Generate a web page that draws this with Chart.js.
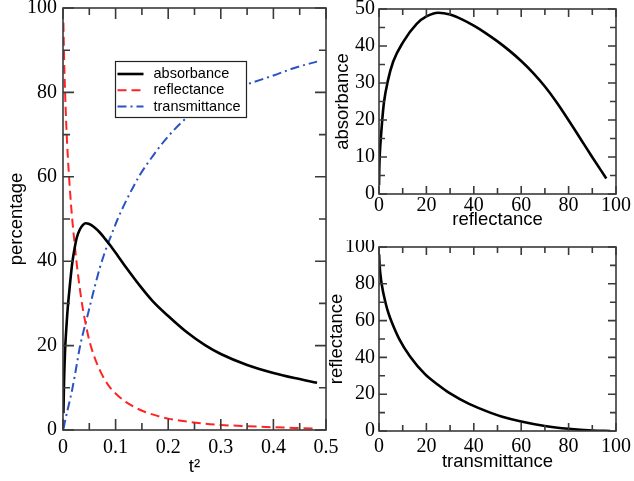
<!DOCTYPE html>
<html>
<head>
<meta charset="utf-8">
<script src="https://cdn.jsdelivr.net/npm/chart.js@4.4.0/dist/chart.umd.min.js"></script>
<style>
  body { margin: 0; background: #fff; }
  #wrap { position: relative; width: 634px; height: 481px; overflow: hidden; background: #fff; }
  canvas { position: absolute; }
</style>
</head>
<body>
<div id="wrap">
  <canvas id="main" width="340" height="481" style="left:0;top:0"></canvas>
  <canvas id="absRefl" width="320" height="240" style="left:314px;top:0"></canvas>
  <canvas id="reflTrans" width="320" height="241" style="left:314px;top:240px"></canvas>
</div>
<script>
// left panel: percentages against t^2
const t2 = [0.0008, 0.002, 0.004, 0.006, 0.008, 0.0105, 0.014, 0.0175, 0.022, 0.026,
  0.032, 0.038, 0.043, 0.05, 0.06, 0.07, 0.08, 0.09, 0.104, 0.12,
  0.146, 0.17, 0.2, 0.235, 0.27, 0.3, 0.35, 0.4, 0.44, 0.483];
const absorbance = [4, 11.5, 19, 23.5, 27.3, 31, 35.5, 39.5, 43, 45.5,
  47.5, 48.6, 49, 48.8, 48.0, 46.8, 45.3, 43.7, 41.3, 38.5,
  34.2, 30.6, 27.0, 23.2, 20.1, 18.0, 15.4, 13.5, 12.3, 11.2];
const reflectance = [96.5, 88.5, 80, 73, 67.5, 62, 55.5, 50, 44.3, 39.5,
  33.5, 28.5, 25.2, 21.2, 17.2, 14.2, 11.8, 10.0, 8.2, 6.6,
  4.8, 3.7, 2.7, 2.0, 1.5, 1.2, 0.9, 0.65, 0.5, 0.35];
const transmittance = [0.3, 0.9, 2.2, 3.3, 4.4, 5.7, 7.6, 9.6, 12.6, 15.4,
  19.6, 22.9, 25.3, 28.8, 33.8, 38.4, 42.3, 45.6, 50.0, 54.3,
  60.4, 64.8, 69.6, 74.0, 77.2, 79.3, 81.9, 84.0, 85.8, 87.3];

// top right: absorbance against reflectance
const arRefl = [0.02, 0.1, 0.4, 0.85, 1.4, 2.1, 3.7, 6, 10.3, 15.9, 20, 25, 30,
  35, 40, 45, 50, 55, 60, 65, 70, 75, 80, 85, 90, 95.9];
const arAbs = [2.4, 6, 11.5, 15.8, 20.3, 24.8, 30.5, 35.8, 41.2, 46, 48, 49, 48.5,
  47.2, 45.5, 43.5, 41.25, 38.75, 35.95, 32.75, 29.05, 24.75, 19.95, 14.95, 9.95, 4.2];

// bottom right: reflectance against transmittance
const rtTrans = [0.05, 0.3, 0.6, 1.1, 2.8, 4, 5.4, 8.5, 13.1, 19.4, 25, 30,
  38, 46.9, 52, 60, 70, 80, 90, 97.6];
const rtRefl = [96, 89.3, 85.1, 80, 69.4, 64, 59.1, 50.1, 40.5, 30.9, 25, 20.4,
  14.7, 10, 7.8, 5.2, 2.75, 1.2, 0.28, 0.02];

const SERIF = 'Liberation Serif';
const SANS = 'Liberation Sans';
Chart.defaults.font.family = SANS;
Chart.defaults.color = '#000';

const pairs = (xs, ys) => xs.map((x, i) => ({ x: x, y: ys[i] }));

// box round the plot with inward ticks on all four sides
const framePlugin = {
  id: 'frame',
  afterDatasetsDraw(chart, args, o) {
    const { ctx, chartArea: a } = chart;
    const { x, y } = chart.scales;
    const isMajor = (v, m) => Math.abs(v / m - Math.round(v / m)) < 1e-6;
    ctx.save();
    ctx.strokeStyle = '#3a3a3a';
    ctx.lineWidth = 1.6;
    ctx.strokeRect(a.left, a.top, a.right - a.left, a.bottom - a.top);
    ctx.beginPath();
    for (let i = 0; x.min + i * o.xMinor <= x.max + 1e-9; i++) {
      const v = x.min + i * o.xMinor;
      const px = x.getPixelForValue(v);
      const len = isMajor(v, o.xMajor) ? o.major : o.minor;
      ctx.moveTo(px, a.bottom); ctx.lineTo(px, a.bottom - len);
      ctx.moveTo(px, a.top); ctx.lineTo(px, a.top + len);
    }
    for (let i = 0; y.min + i * o.yMinor <= y.max + 1e-9; i++) {
      const v = y.min + i * o.yMinor;
      const py = y.getPixelForValue(v);
      const len = isMajor(v, o.yMajor) ? o.major : o.minor;
      ctx.moveTo(a.left, py); ctx.lineTo(a.left + len, py);
      ctx.moveTo(a.right, py); ctx.lineTo(a.right - len, py);
    }
    ctx.stroke();
    ctx.restore();
  }
};

// legend drawn inside the left plot
const legendBox = {
  id: 'legendBox',
  afterDraw(chart) {
    const { ctx, chartArea: a } = chart;
    const bx = a.left + 52.5, by = a.top + 53.5;
    ctx.save();
    ctx.fillStyle = '#fff';
    ctx.strokeStyle = '#222';
    ctx.lineWidth = 1.2;
    ctx.fillRect(bx, by, 131, 56);
    ctx.strokeRect(bx, by, 131, 56);
    ctx.font = '14.5px "' + SANS + '"';
    ctx.textBaseline = 'middle';
    chart.data.datasets.forEach((ds, i) => {
      const ly = by + 12.5 + i * 16.3;
      ctx.strokeStyle = ds.borderColor;
      ctx.lineWidth = ds.borderWidth;
      ctx.setLineDash(ds.borderDash || []);
      ctx.beginPath();
      ctx.moveTo(bx + 2, ly); ctx.lineTo(bx + 28, ly);
      ctx.stroke();
      ctx.setLineDash([]);
      ctx.fillStyle = '#000';
      ctx.fillText(ds.label, bx + 38, ly);
    });
    ctx.restore();
  }
};

function axis(min, max, step, size, vertical, title, titlePad, tickPad) {
  return {
    type: 'linear', min: min, max: max,
    grid: { display: false, drawTicks: false },
    border: { display: false },
    ticks: {
      stepSize: step, autoSkip: false, maxRotation: 0, padding: tickPad, color: '#000',
      font: { family: SERIF, size: 20 },
      callback: v => String(Math.round(v * 100) / 100)
    },
    title: { display: true, text: title, color: '#000', font: { family: SANS, size: 18.5 }, padding: titlePad },
    afterFit(scale) {
      if (vertical) scale.width = size; else scale.height = size;
      scale.paddingLeft = scale.paddingRight = scale.paddingTop = scale.paddingBottom = 0;
    }
  };
}

function line(label, data, color, width, dash) {
  return {
    label: label, data: data, showLine: true, pointRadius: 0, borderColor: color,
    borderWidth: width, borderDash: dash, cubicInterpolationMode: 'monotone', fill: false
  };
}

const common = {
  responsive: false, animation: false, devicePixelRatio: 1,
  plugins: { legend: { display: false }, tooltip: { enabled: false } }
};

new Chart(document.getElementById('main'), {
  type: 'scatter',
  data: {
    datasets: [
      line('absorbance', pairs(t2, absorbance), '#000', 2.6, []),
      line('reflectance', pairs(t2, reflectance), '#ff2424', 2, [9, 5]),
      line('transmittance', pairs(t2, transmittance), '#2a52c4', 2, [9, 4, 2, 4])
    ]
  },
  options: Object.assign({}, common, {
    layout: { padding: { left: 0, top: 8, right: 14, bottom: 0 } },
    scales: {
      x: axis(0, 0.5, 0.1, 51, false, 't\u00b2', { top: 0, bottom: 3 }, 6),
      y: axis(0, 100, 20, 63, true, 'percentage', { top: 6, bottom: 0 }, 6)
    },
    plugins: Object.assign({}, common.plugins, {
      frame: { xMajor: 0.1, xMinor: 0.05, yMajor: 20, yMinor: 10, major: 11, minor: 7 }
    })
  }),
  plugins: [framePlugin, legendBox]
});

new Chart(document.getElementById('absRefl'), {
  type: 'scatter',
  data: { datasets: [line('absorbance', pairs(arRefl, arAbs), '#000', 2.6, [])] },
  options: Object.assign({}, common, {
    layout: { padding: { left: 0, top: 9, right: 18, bottom: 0 } },
    scales: {
      x: axis(0, 100, 20, 46, false, 'reflectance', { top: 0, bottom: 9 }, 0),
      y: axis(0, 50, 10, 65, true, 'absorbance', { top: 18, bottom: 0 }, 4)
    },
    plugins: Object.assign({}, common.plugins, {
      frame: { xMajor: 20, xMinor: 10, yMajor: 10, yMinor: 5, major: 8, minor: 6 }
    })
  }),
  plugins: [framePlugin]
});

new Chart(document.getElementById('reflTrans'), {
  type: 'scatter',
  data: { datasets: [line('reflectance', pairs(rtTrans, rtRefl), '#000', 2.6, [])] },
  options: Object.assign({}, common, {
    layout: { padding: { left: 0, top: 7, right: 18, bottom: 0 } },
    scales: {
      x: axis(0, 100, 20, 50, false, 'transmittance', { top: 0, bottom: 8 }, 4),
      y: axis(0, 100, 20, 65, true, 'reflectance', { top: 12, bottom: 0 }, 4)
    },
    plugins: Object.assign({}, common.plugins, {
      frame: { xMajor: 20, xMinor: 10, yMajor: 20, yMinor: 10, major: 8, minor: 6 }
    })
  }),
  plugins: [framePlugin]
});
</script>
</body>
</html>
